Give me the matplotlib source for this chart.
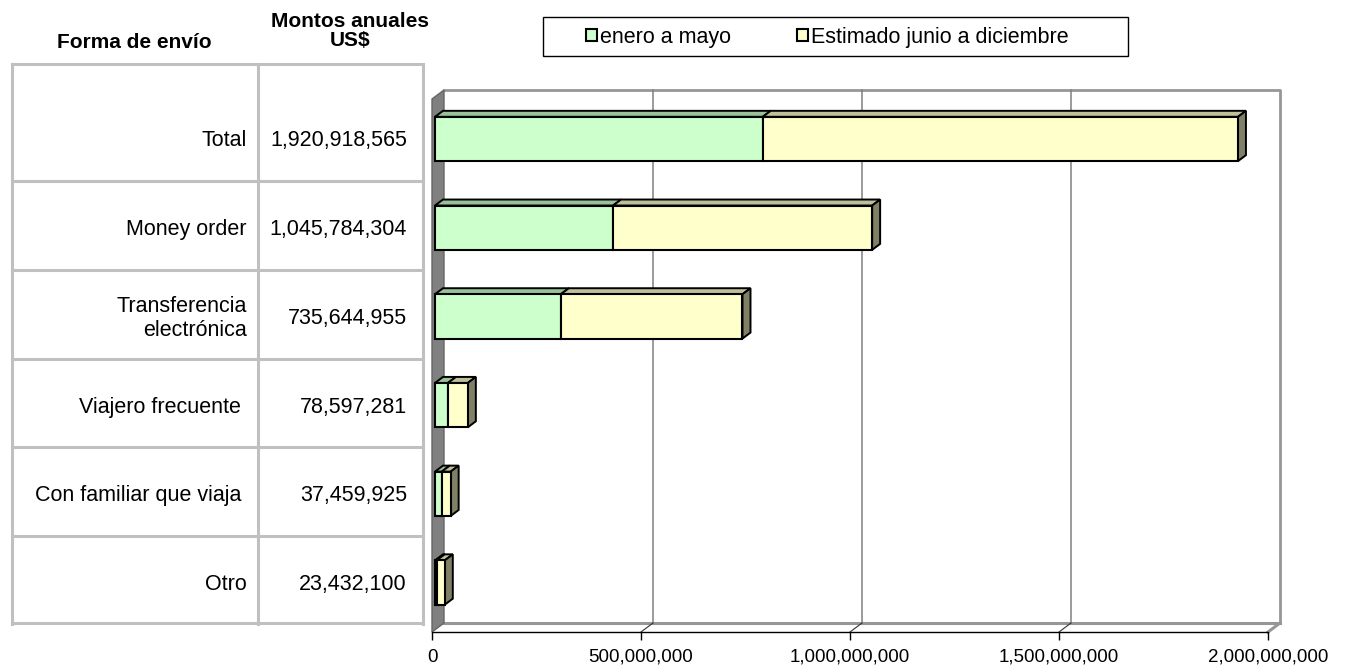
import numpy as np
import matplotlib
matplotlib.use('Agg')
import matplotlib.pyplot as plt
import matplotlib.patches as mpatches
import matplotlib.transforms as mtransforms
from matplotlib.ticker import FuncFormatter

plt.rcParams['font.family'] = ['Liberation Sans', 'DejaVu Sans']

# datos (de arriba hacia abajo)
formas = ['Total', 'Money order', 'Transferencia\nelectrónica',
          'Viajero frecuente ', 'Con familiar que viaja ', 'Otro']
montos = [1920918565, 1045784304, 735644955, 78597281, 37459925, 23432100]
enero_mayo = [784000000, 426000000, 301000000, 31000000, 16000000, 4000000]
junio_dic = [m - e for m, e in zip(montos, enero_mayo)]
series = ['enero a mayo', 'Estimado junio a diciembre']
xticks = [0, 500000000, 1000000000, 1500000000, 2000000000]

verde, verde_top = '#ccffcc', '#99c299'
amarillo, amarillo_top, amarillo_lado = '#ffffcc', '#bfbf99', '#808066'

W, H = 1347, 668
fig = plt.figure(figsize=(W / 100, H / 100), dpi=100)

# capa para la tabla y el recuadro de la leyenda (coordenadas en pixeles)
tab = fig.add_axes([0, 0, 1, 1], zorder=0)
tab.set_xlim(0, W)
tab.set_ylim(H, 0)
tab.axis('off')

ax = fig.add_axes([432 / W, (H - 632) / H, (1268 - 432) / W, (632 - 99) / H], zorder=1)
ax.patch.set_visible(False)
ax.set_xlim(0, 2000000000)
ytop, ybot = -0.4735, 5.5355
ax.set_ylim(ybot, ytop)
y = np.arange(len(formas))


def shift(x, yy, dx, dy):
    px, py = ax.transData.transform((x, yy))
    return ax.transData.inverted().transform((px + dx, py + dy))


# paredes 3D
wx, wy = 12, 9
pared = [(0, ytop), (0, ybot), shift(0, ybot, wx, wy), shift(0, ytop, wx, wy)]
ax.add_patch(mpatches.Polygon(pared, closed=True, facecolor='#808080', edgecolor='#666666',
                              lw=1, clip_on=False, zorder=2))
a, b = shift(0, ytop, wx, wy), shift(2000000000, ytop, wx, wy)
c = shift(2000000000, ybot, wx, wy)
d = shift(0, ybot, wx, wy)
ax.plot([a[0], b[0], c[0]], [a[1], b[1], c[1]], color='#969696', lw=2, clip_on=False, zorder=1)
ax.plot([d[0], c[0]], [d[1], c[1]], color='#969696', lw=2.2, clip_on=False, zorder=1)
ax.plot([2000000000, c[0]], [ybot, c[1]], color='#969696', lw=2.2, clip_on=False, zorder=1)
for v in xticks[1:-1]:
    g0, g1 = shift(v, ybot, wx, wy), shift(v, ytop, wx, wy)
    ax.plot([g0[0], g1[0]], [g0[1], g1[1]], color='#808080', lw=1.1, clip_on=False, zorder=1)
    ax.plot([v, g0[0]], [ybot, g0[1]], color='#333333', lw=0.8, clip_on=False, zorder=1)

# barras apiladas con efecto 3D
fx, fy = 3, 2
bx, by = 8, 6
off = mtransforms.offset_copy(ax.transData, fig=fig, x=fx, y=fy, units='dots')
h = 0.5
ax.barh(y, enero_mayo, height=h, color=verde, edgecolor='black', lw=1.5,
        transform=off, zorder=5, clip_on=False)
ax.barh(y, junio_dic, left=enero_mayo, height=h, color=amarillo, edgecolor='black', lw=1.5,
        transform=off, zorder=5, clip_on=False)
for i in range(len(formas)):
    yt, yb = y[i] - h / 2, y[i] + h / 2
    for x0, x1, col in [(0, enero_mayo[i], verde_top), (enero_mayo[i], montos[i], amarillo_top)]:
        top = [shift(x0, yt, fx, fy), shift(x1, yt, fx, fy),
               shift(x1, yt, fx + bx, fy + by), shift(x0, yt, fx + bx, fy + by)]
        ax.add_patch(mpatches.Polygon(top, closed=True, facecolor=col, edgecolor='black',
                                      lw=1.4, clip_on=False, zorder=4))
    x1 = montos[i]
    lado = [shift(x1, yt, fx, fy), shift(x1, yb, fx, fy),
            shift(x1, yb, fx + bx, fy + by), shift(x1, yt, fx + bx, fy + by)]
    ax.add_patch(mpatches.Polygon(lado, closed=True, facecolor=amarillo_lado, edgecolor='black',
                                  lw=1.4, clip_on=False, zorder=4))

for s in ['top', 'right', 'left']:
    ax.spines[s].set_visible(False)
ax.spines['bottom'].set_linewidth(1)
ax.set_yticks([])
ax.set_xticks(xticks)
ax.xaxis.set_major_formatter(FuncFormatter(lambda v, p: f'{v:,.0f}'))
ax.tick_params(axis='x', length=6, width=1, direction='out', labelsize=13.5, pad=6)

# tabla de la izquierda
lineas = '#c0c0c0'
filas = [64, 181, 270, 359, 447, 536, 623]
for yy in filas:
    tab.plot([12, 423], [yy, yy], color=lineas, lw=2.2)
for xx in [12, 258, 423]:
    tab.plot([xx, xx], [64, 624], color=lineas, lw=2.2)

mix = mtransforms.blended_transform_factory(tab.transData, ax.transData)
for i, (f, m) in enumerate(zip(formas, montos)):
    tab.text(247, y[i], f, transform=mix, ha='right', va='center', fontsize=15.5,
             multialignment='right')
    tab.text(407, y[i], f'{m:,}', transform=mix, ha='right', va='center', fontsize=15.5)

tab.text(134, 43, 'Forma de envío', ha='center', va='center', fontsize=15, fontweight='bold')
tab.text(350, 31, 'Montos anuales\nUS$', ha='center', va='center', fontsize=15,
         fontweight='bold', linespacing=1.05)

# leyenda
tab.add_patch(mpatches.Rectangle((543, 17), 585, 39, fill=False, edgecolor='black', lw=1))
handles = [mpatches.Patch(facecolor=verde, edgecolor='black', lw=1.5),
           mpatches.Patch(facecolor=amarillo, edgecolor='black', lw=1.5)]
fig.legend(handles, series, loc='center left', bbox_to_anchor=(586 / W, 1 - 37 / H),
           ncol=2, frameon=False, fontsize=15.5, handlelength=0.51, handleheight=0.51,
           handletextpad=0.15, columnspacing=3.05, borderpad=0, borderaxespad=0)

fig.savefig('out.png', dpi=100)
